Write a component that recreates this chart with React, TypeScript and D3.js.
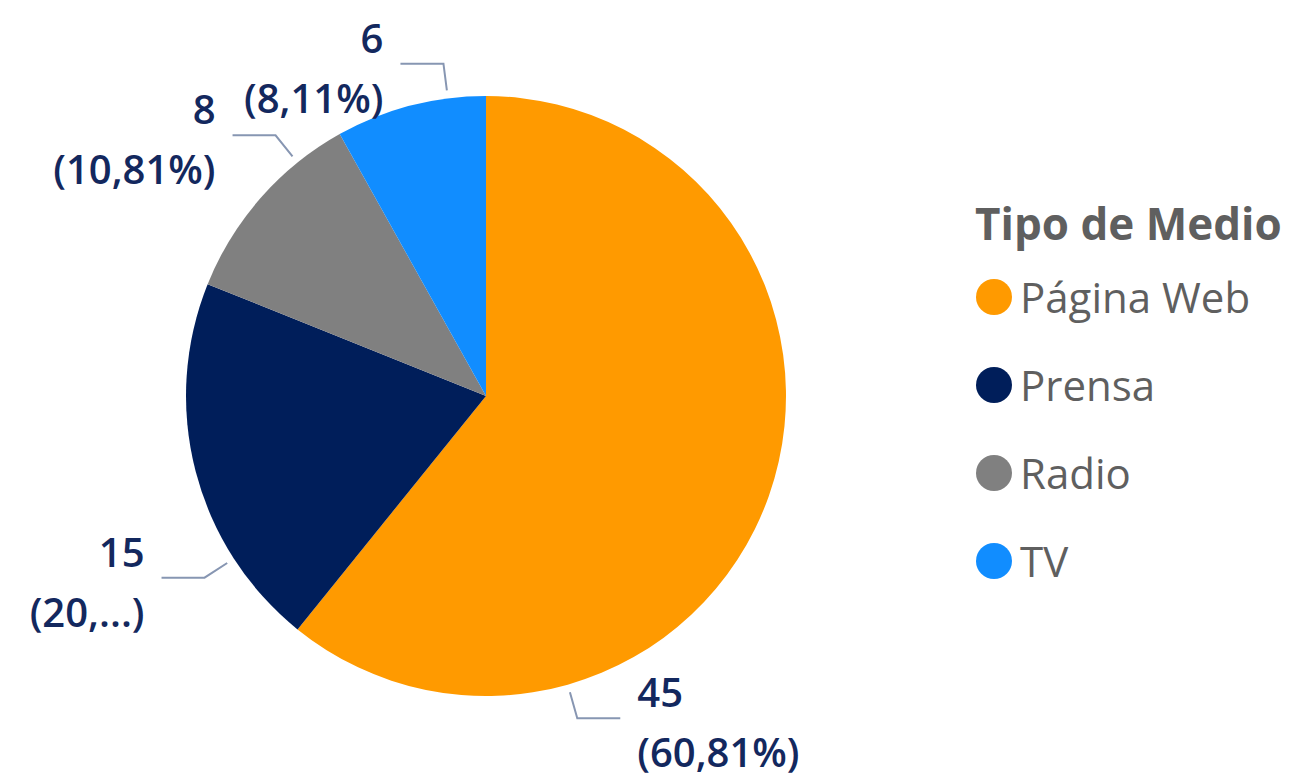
import React, { useEffect, useRef } from "react";
import * as d3 from "d3";

const categories = ["Página Web", "Prensa", "Radio", "TV"];
const values = [45, 15, 8, 6];
const colors = ["#FF9A00", "#001E5A", "#808080", "#118DFF"];
const legendTitle = "Tipo de Medio";

// where along each slice the leader line leaves the pie (0 = start, 1 = end)
const labelAnchor = [0.75, 0.25, 0.75, 0.75];

const W = 1295;
const H = 778;
const cx = 486;
const cy = 396;
const radius = 300;

const labelColor = "#13285E";
const lineColor = "#8796B2";
const legendColor = "#5F5F5F";
const font = "'Open Sans', 'Noto Sans', sans-serif";

const formatPct = (v: number, total: number): string =>
    d3.format(".2f")((v / total) * 100).replace(".", ",") + "%";

const App = () => {
    const svgRef = useRef<SVGSVGElement>(null);

    useEffect(() => {
        const svg = d3.select(svgRef.current);
        svg.selectAll("*").remove();

        const total = d3.sum(values);
        const pie = d3
            .pie<number>()
            .sort(null)
            .value((d) => d)
            .startAngle(0)
            .endAngle(2 * Math.PI);
        const arcs = pie(values);

        const arc = d3.arc<d3.PieArcDatum<number>>().innerRadius(0).outerRadius(radius);

        const g = svg.append("g").attr("transform", `translate(${cx},${cy})`);

        g.selectAll("path.slice")
            .data(arcs)
            .enter()
            .append("path")
            .attr("class", "slice")
            .attr("d", arc)
            .attr("fill", (_d, i) => colors[i]);

        const polar = (a: number, r: number): [number, number] => [
            r * Math.sin(a),
            -r * Math.cos(a),
        ];

        arcs.forEach((d, i) => {
            const a = d.startAngle + (d.endAngle - d.startAngle) * labelAnchor[i];
            const p0 = polar(a, radius + 8);
            const p1 = polar(a, radius + 35);
            const side = Math.sin(a) >= 0 ? 1 : -1;
            const p2: [number, number] = [p1[0] + side * 43, p1[1]];

            g.append("polyline")
                .attr("points", [p0, p1, p2].map((p) => p.join(",")).join(" "))
                .attr("fill", "none")
                .attr("stroke", lineColor)
                .attr("stroke-width", 2);

            const tx = p2[0] + side * 17;
            const anchor = side > 0 ? "start" : "end";

            g.append("text")
                .attr("x", tx)
                .attr("y", p1[1] - 11)
                .attr("text-anchor", anchor)
                .attr("font-family", font)
                .attr("font-size", 40)
                .attr("font-weight", 600)
                .attr("fill", labelColor)
                .text(values[i]);

            const pct = formatPct(values[i], total);
            const t2 = g
                .append("text")
                .attr("x", tx)
                .attr("y", p1[1] + 49)
                .attr("text-anchor", anchor)
                .attr("font-family", font)
                .attr("font-size", 40)
                .attr("font-weight", 600)
                .attr("fill", labelColor)
                .text(`(${pct})`);

            // truncate labels that don't fit in the space left of the pie
            const avail = side < 0 ? cx + tx - 8 : W - (cx + tx) - 8;
            const node = t2.node() as SVGTextElement;
            let s = pct;
            while (node.getComputedTextLength() > avail && s.length > 1) {
                s = s.slice(0, -1);
                t2.text(`(${s}...)`);
            }
        });

        // legend
        const lg = svg.append("g").attr("transform", "translate(975,0)");
        lg.append("text")
            .attr("x", 0)
            .attr("y", 240)
            .attr("font-family", font)
            .attr("font-size", 44)
            .attr("font-weight", 700)
            .attr("fill", legendColor)
            .text(legendTitle);

        const yLeg = d3
            .scalePoint<string>()
            .domain(categories)
            .range([297, 561]);

        const item = lg
            .selectAll("g.item")
            .data(categories)
            .enter()
            .append("g")
            .attr("class", "item")
            .attr("transform", (d) => `translate(0,${yLeg(d)})`);

        item.append("circle")
            .attr("cx", 19)
            .attr("cy", 0)
            .attr("r", 18)
            .attr("fill", (_d, i) => colors[i]);

        item.append("text")
            .attr("x", 45)
            .attr("y", 16)
            .attr("font-family", font)
            .attr("font-size", 42)
            .attr("fill", legendColor)
            .text((d) => d);
    }, []);

    return (
        <div style={{ position: "absolute", left: 0, top: 0, width: W, height: H, background: "#fff" }}>
            <svg ref={svgRef} width={W} height={H} style={{ display: "block" }}></svg>
        </div>
    );
};

export default App;
